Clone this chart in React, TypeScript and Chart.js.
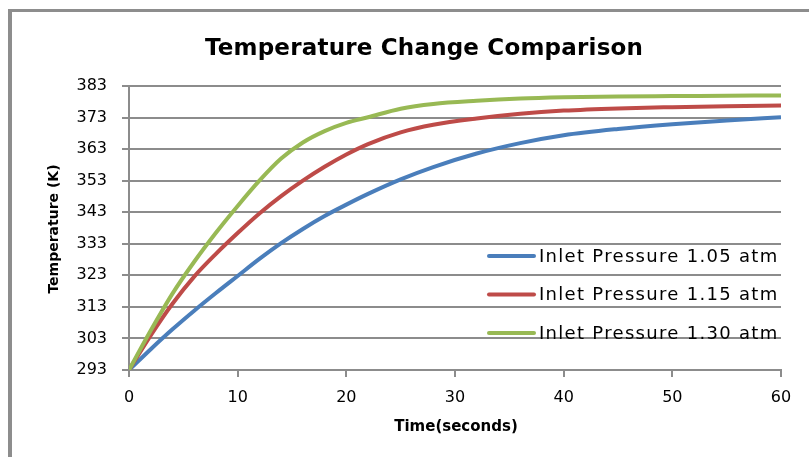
import React, { useEffect, useRef } from "react";
import { Chart, registerables } from "chart.js";

Chart.register(...registerables);

const TITLE = "Temperature Change Comparison";
const X_TITLE = "Time(seconds)";
const Y_TITLE = "Temperature (K)";

const times = [0, 2, 4, 6, 8, 10, 12, 14, 16, 18, 20, 22, 25, 28, 32, 36, 40, 45, 50, 55, 60];
const blueTemps = [293, 299.6, 305.9, 311.8, 317.4, 322.8, 328.2, 333.2, 337.7, 341.8, 345.4, 348.8, 353.4, 357.3, 361.6, 364.9, 367.4, 369.4, 370.9, 372.1, 373.1];
const redTemps = [293, 304, 314, 322.6, 329.8, 336.4, 342.6, 348.1, 353, 357.4, 361.3, 364.6, 368.3, 370.7, 372.7, 374.2, 375.2, 375.9, 376.3, 376.6, 376.8];
const greenTemps = [293, 305.5, 317.2, 327.3, 336.5, 345, 353, 360, 365.1, 368.7, 371.3, 373.1, 375.8, 377.3, 378.3, 379, 379.4, 379.7, 379.8, 379.9, 380];

const seriesLabels = ["Inlet Pressure 1.05 atm", "Inlet Pressure 1.15 atm", "Inlet Pressure 1.30 atm"];
const seriesColors = ["#4A7EBB", "#BE4B48", "#98B954"];
const seriesValues = [blueTemps, redTemps, greenTemps];

const FONT = '"DejaVu Sans"';
const GRID = "#8c8c8c";

const textPlugin = {
  id: "customText",
  afterDraw(chart: any) {
    const ctx = chart.ctx as any;
    ctx.save();
    ctx.fillStyle = "#000";
    ctx.textAlign = "center";
    ctx.textBaseline = "alphabetic";
    ctx.font = `bold 23px ${FONT}`;
    ctx.letterSpacing = "0.2px";
    ctx.fillText(TITLE, 424, 55);
    ctx.letterSpacing = "0px";
    ctx.font = `bold 15px ${FONT}`;
    ctx.fillText(X_TITLE, 456, 431);
    ctx.save();
    ctx.translate(58, 229);
    ctx.rotate(-Math.PI / 2);
    ctx.font = `bold 14px ${FONT}`;
    ctx.fillText(Y_TITLE, 0, 0);
    ctx.restore();

    // legend
    chart.data.datasets.forEach((ds: any, i: number) => {
      const y = 256 + i * 38.5;
      ctx.strokeStyle = ds.borderColor;
      ctx.lineWidth = 4;
      ctx.lineCap = "round";
      ctx.beginPath();
      ctx.moveTo(489, y);
      ctx.lineTo(534, y);
      ctx.stroke();
      ctx.fillStyle = "#000";
      ctx.textAlign = "left";
      ctx.textBaseline = "middle";
      ctx.font = `18px ${FONT}`;
      ctx.letterSpacing = "1.3px";
      ctx.fillText(ds.label, 539, y + 1);
      ctx.letterSpacing = "0px";
    });
    ctx.restore();
  },
};

export default function App() {
  const ref = useRef<HTMLCanvasElement | null>(null);

  useEffect(() => {
    if (!ref.current) return;
    const datasets = seriesLabels.map((label, i) => ({
      label,
      data: times.map((t, j) => ({ x: t, y: seriesValues[i][j] })),
      borderColor: seriesColors[i],
      backgroundColor: seriesColors[i],
      borderWidth: 4,
      pointRadius: 0,
      cubicInterpolationMode: "monotone" as const,
      fill: false,
      order: 2 - i,
    }));
    const chart = new Chart(ref.current, {
      type: "line",
      data: { datasets },
      options: {
        responsive: false,
        animation: false,
        layout: { padding: { top: 86, right: 28, left: 0, bottom: 0 } },
        plugins: {
          legend: { display: false },
          tooltip: { enabled: false },
          title: { display: false },
        },
        scales: {
          x: {
            type: "linear",
            min: 0,
            max: 60,
            ticks: {
              stepSize: 10,
              color: "#000",
              font: { family: "DejaVu Sans", size: 16 },
              padding: 11,
              maxRotation: 0,
            },
            grid: { drawOnChartArea: false, drawTicks: true, tickLength: 7, color: GRID, lineWidth: 2 },
            border: { color: GRID, width: 2 },
            afterFit: (s: any) => {
              s.height = 87;
            },
          },
          y: {
            min: 293,
            max: 383,
            ticks: {
              stepSize: 10,
              color: "#000",
              font: { family: "DejaVu Sans", size: 16 },
              padding: 15,
            },
            grid: { color: GRID, lineWidth: 2, tickLength: 7 },
            border: { color: GRID, width: 2 },
            afterFit: (s: any) => {
              s.width = 129;
            },
          },
        },
      },
      plugins: [textPlugin],
    });
    return () => chart.destroy();
  }, []);

  return (
    <div style={{ position: "fixed", left: 0, top: 0, width: 809, height: 457, background: "#fff", overflow: "hidden" }}>
      <div
        style={{
          position: "absolute",
          left: 8,
          top: 9,
          width: 1000,
          height: 700,
          borderLeft: "4px solid #8d8d8d",
          borderTop: "3px solid #8d8d8d",
        }}
      />
      <canvas ref={ref} width={809} height={457} style={{ position: "absolute", left: 0, top: 0, width: 809, height: 457 }} />
    </div>
  );
}
